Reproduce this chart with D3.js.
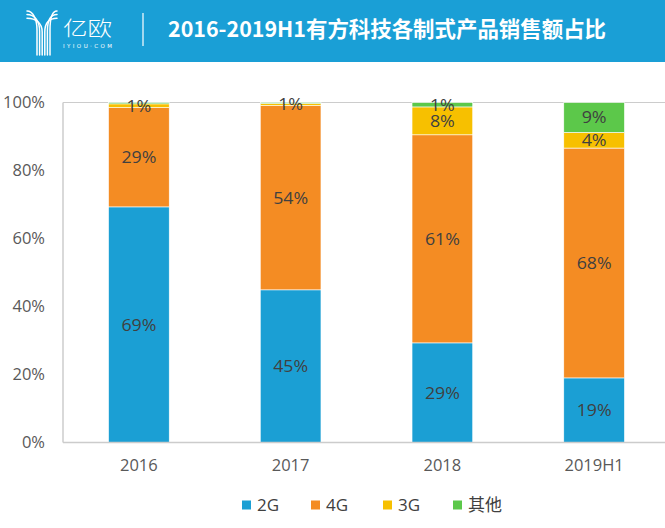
<!DOCTYPE html>
<html><head><meta charset="utf-8">
<script src="https://cdn.jsdelivr.net/npm/d3@7"></script>
<style>html,body{margin:0;padding:0;background:#fff;}svg{display:block;}</style>
</head><body>
<script>
const categories = ["2016", "2017", "2018", "2019H1"];
const seriesNames = ["2G", "4G", "3G", "其他"];
const s2G   = [69.3, 44.9, 29.3, 19.0];
const s4G   = [29.2, 54.2, 61.2, 67.6];
const s3G   = [1.1, 0.6, 8.2, 4.6];
const sOther= [0.4, 0.3, 1.3, 8.8];
const labels2G = ["69%", "45%", "29%", "19%"];
const labels4G = ["29%", "54%", "61%", "68%"];
const labels3G = ["1%", "1%", "8%", "4%"];
const labelsOther = ["", "", "1%", "9%"];
const yTicks = [0, 20, 40, 60, 80, 100];
const title = "2016-2019H1有方科技各制式产品销售额占比";
const colors = ["#1b9fd4", "#f48c23", "#f7c000", "#5cc84a"];

const W = 665, H = 528;
const svg = d3.select("body").append("svg").attr("width", W).attr("height", H);

// header
svg.append("rect").attr("x",0).attr("y",0).attr("width",W).attr("height",62).attr("fill","#1a9fd6");
const logo = svg.append("g").attr("fill","none").attr("stroke","#fff").attr("stroke-width",1.5).attr("stroke-linecap","round");
[0,1,2].forEach(i=>{
  const sx = 37 + i*2.6;
  logo.append("path").attr("d",`M27 ${11+i*3.6} C${33+i*1.5} ${11+i*3.6} ${sx} ${19+i*2} ${sx} ${30+i*1} L${sx} 55`);
});
[0,1,2].forEach(i=>{
  const sx = 50 - i*2.6;
  logo.append("path").attr("d",`M57 ${11+i*3.6} C${52-i*1.5} ${11+i*3.6} ${sx} ${19+i*2} ${sx} ${30+i*1} L${sx} 55`);
});
svg.append("text").attr("x",63).attr("y",36).attr("fill","#fff")
  .attr("font-family","'Noto Sans CJK SC'").attr("font-weight",300).attr("font-size",20)
  .attr("textLength",49).attr("lengthAdjust","spacingAndGlyphs").text("亿欧");
svg.append("text").attr("x",63).attr("y",47.5).attr("fill","#fff")
  .attr("font-family","'DejaVu Sans'").attr("font-size",5.5)
  .attr("textLength",49).attr("lengthAdjust","spacing").text("IYIOU·COM");
svg.append("line").attr("x1",143).attr("x2",143).attr("y1",13).attr("y2",46).attr("stroke","#fff").attr("stroke-width",1.2);
svg.append("text").attr("x",168).attr("y",37).attr("fill","#fff")
  .attr("font-family","'Noto Sans CJK SC'").attr("font-weight",700).attr("font-size",21.5)
  .attr("textLength",438).attr("lengthAdjust","spacingAndGlyphs").text(title);

// chart
const x = d3.scaleBand().domain(categories).range([63, 670]).paddingInner(0.6).paddingOuter(0.3);
const y = d3.scaleLinear().domain([0, 100]).range([442.5, 102.5]);

const rows = categories.map((c,i)=>({cat:c, "2G":s2G[i], "4G":s4G[i], "3G":s3G[i], "其他":sOther[i]}));
const stack = d3.stack().keys(seriesNames)(rows);
const labelSets = [labels2G, labels4G, labels3G, labelsOther];

const gridC = "#cccccc";
svg.append("line").attr("x1",63).attr("x2",W).attr("y1",y(100)).attr("y2",y(100)).attr("stroke",gridC).attr("stroke-width",1.2);
svg.append("line").attr("x1",63).attr("x2",63).attr("y1",y(100)).attr("y2",y(0)).attr("stroke",gridC).attr("stroke-width",1.5);

stack.forEach((layer,k)=>{
  svg.append("g").selectAll("rect").data(layer).join("rect")
    .attr("x", d=>x(d.data.cat)).attr("width", x.bandwidth())
    .attr("y", d=>y(d[1])).attr("height", d=>y(d[0])-y(d[1]))
    .attr("fill", colors[k]).attr("stroke","#fff").attr("stroke-width",0.6);
});
svg.append("line").attr("x1",63).attr("x2",W).attr("y1",y(0)).attr("y2",y(0)).attr("stroke",gridC).attr("stroke-width",1.5);

const lf = "'Open Sans', 'Noto Sans'";
stack.forEach((layer,k)=>{
  svg.append("g").selectAll("text").data(layer).join("text")
    .attr("x", d=>x(d.data.cat)+x.bandwidth()/2)
    .attr("y", d=>(y(d[0])+y(d[1]))/2)
    .attr("dy","0.36em").attr("text-anchor","middle")
    .attr("font-family",lf).attr("font-size",16.5).attr("fill","#404040")
    .attr("textLength", (d,i)=> labelSets[k][i].length===3 ? 35 : 25).attr("lengthAdjust","spacingAndGlyphs")
    .text((d,i)=>labelSets[k][i]);
});

// y axis
const yAxis = d3.axisLeft(y).tickValues(yTicks).tickFormat(d=>d+"%").tickSize(0).tickPadding(18);
const ga = svg.append("g").attr("transform","translate(63,0)").call(yAxis);
ga.select(".domain").remove();
ga.selectAll("text").attr("font-family",lf).attr("font-size",16.5).attr("fill","#595959");

// x axis
const xAxis = d3.axisBottom(x).tickSize(0).tickPadding(17);
const gx = svg.append("g").attr("transform",`translate(0,${y(0)})`).call(xAxis);
gx.select(".domain").remove();
gx.selectAll("text").attr("font-family",lf).attr("font-size",16.5).attr("fill","#595959");

// legend
const legX = [242, 311, 383, 453];
const lg = svg.append("g");
seriesNames.forEach((n,i)=>{
  lg.append("rect").attr("x",legX[i]).attr("y",500.5).attr("width",9).attr("height",9).attr("fill",colors[i]);
  lg.append("text").attr("x",legX[i]+15).attr("y",505).attr("dy","0.36em")
    .attr("font-family", i===3 ? "'Noto Sans CJK SC'" : lf).attr("font-size",17).attr("fill","#404040").text(n);
});
</script>
</body></html>
